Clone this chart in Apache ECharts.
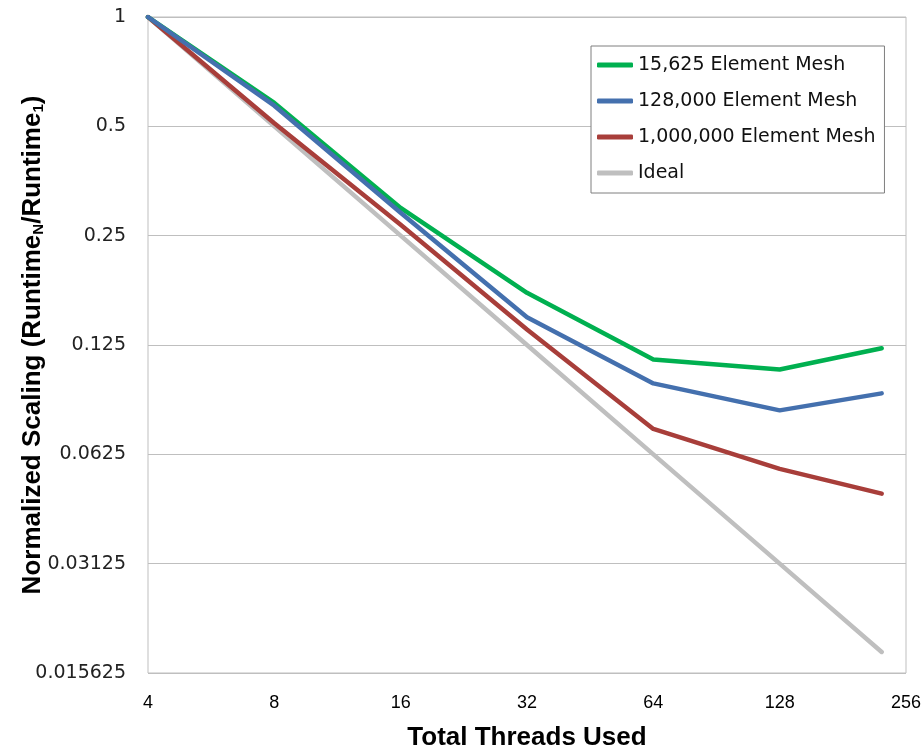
<!DOCTYPE html>
<html>
<head>
<meta charset="utf-8">
<script src="https://cdn.jsdelivr.net/npm/echarts@6/dist/echarts.min.js"></script>
<style>
html, body { margin: 0; padding: 0; background: #fff; }
#main { width: 924px; height: 752px; }
</style>
</head>
<body>
<div id="main"></div>
<script>
// 线程数与归一化运行时间
var threads = [4, 8, 16, 32, 64, 128, 224];
var mesh15k = [1, 0.58, 0.298, 0.174, 0.114, 0.107, 0.1225];
var mesh128k = [1, 0.57, 0.289, 0.149, 0.098, 0.0826, 0.092];
var mesh1m = [1, 0.51, 0.268, 0.138, 0.0734, 0.057, 0.0487];
var ideal = [1, 0.5, 0.25, 0.125, 0.0625, 0.03125, 0.017857];
var seriesNames = ['15,625 Element Mesh', '128,000 Element Mesh', '1,000,000 Element Mesh', 'Ideal'];
var seriesColors = ['#00B050', '#4470AE', '#A83E3A', '#BFBFBF'];
var seriesZ = [3, 4, 2, 1]; // 蓝线在最上层

function pairs(ys) {
    return threads.map(function (t, i) { return [t, ys[i]]; });
}

var myChart = echarts.init(document.getElementById('main'));
var allData = [mesh15k, mesh128k, mesh1m, ideal];
var series = allData.map(function (ys, i) {
    return {
        name: seriesNames[i],
        type: 'line',
        data: pairs(ys),
        showSymbol: false,
        symbol: 'none',
        z: seriesZ[i],
        lineStyle: { width: 4.5, color: seriesColors[i], cap: 'round', join: 'round' },
        itemStyle: { color: seriesColors[i] }
    };
});

var option = {
    animation: false,
    grid: {
        left: 148, right: 18, top: 17, bottom: 79,
        outerBoundsMode: 'none',
        containLabel: false,
        show: true, borderColor: '#BFBFBF', borderWidth: 1
    },
    legend: {
        orient: 'vertical',
        left: 591, top: 46,
        backgroundColor: '#fff',
        borderColor: '#7F7F7F',
        borderWidth: 1,
        padding: [8, 9, 9, 6],
        itemWidth: 36,
        itemHeight: 5,
        itemGap: 14,
        icon: 'roundRect',
        textStyle: { fontFamily: 'DejaVu Sans', fontSize: 19, color: '#111', lineHeight: 22 },
        data: seriesNames
    },
    xAxis: {
        type: 'log',
        logBase: 2,
        min: 4, max: 256,
        name: 'Total Threads Used',
        nameLocation: 'middle',
        nameGap: 52,
        nameMoveOverlap: false,
        nameTextStyle: { fontFamily: 'Liberation Sans', fontWeight: 'bold', fontSize: 26, color: '#000' },
        axisLine: { show: false },
        axisTick: { show: false },
        splitLine: { show: false },
        axisLabel: { fontFamily: 'Liberation Sans', fontSize: 18, color: '#000', margin: 21 }
    },
    yAxis: {
        type: 'log',
        logBase: 2,
        min: 0.015625, max: 1,
        name: '{a|Normalized Scaling (Runtime}{s|N}{a|/Runtime}{s|1}{a|)}',
        nameLocation: 'middle',
        nameGap: 102,
        nameMoveOverlap: false,
        nameTextStyle: {
            rich: {
                a: { fontFamily: 'Liberation Sans', fontWeight: 'bold', fontSize: 26, color: '#000' },
                s: { fontFamily: 'Liberation Sans', fontWeight: 'bold', fontSize: 15, color: '#000', padding: [11, 0, 0, 0] }
            }
        },
        axisLine: { show: false },
        axisTick: { show: false },
        splitLine: { show: true, lineStyle: { color: '#BFBFBF', width: 1 } },
        axisLabel: {
            fontFamily: 'DejaVu Sans', fontSize: 19, color: '#222', margin: 22,
            formatter: function (v) { return String(parseFloat(v.toPrecision(6))); }
        }
    },
    series: series
};

myChart.setOption(option);
window.addEventListener('resize', function () {
    myChart.resize();
});
</script>
</body>
</html>
